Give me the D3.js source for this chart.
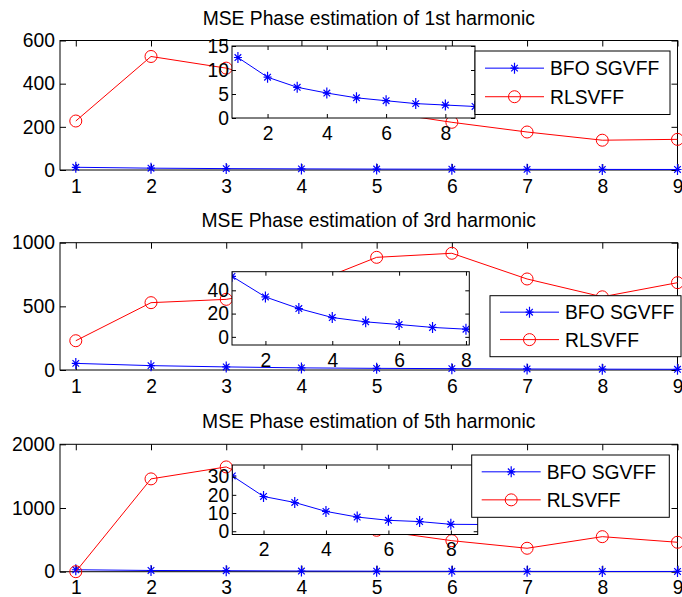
<!DOCTYPE html>
<html>
<head>
<meta charset="utf-8">
<script src="https://cdn.jsdelivr.net/npm/d3@7"></script>
<style>
  body { margin: 0; background: #fff; }
  svg { display: block; }
  text { font-family: "Liberation Sans", Arial, sans-serif; }
</style>
</head>
<body>
<svg width="682" height="597"></svg>
<script>
const steps = [1, 2, 3, 4, 5, 6, 7, 8, 9];
const seriesNames = ["BFO SGVFF", "RLSVFF"];

// 1st harmonic
const bfo1 = [12.6, 8.5, 6.4, 5.2, 4.2, 3.6, 3.0, 2.7, 2.4];
const rls1 = [227, 526, 472, 380, 273, 221, 176, 138, 142];
// 3rd harmonic
const bfo3 = [52, 34.3, 24.3, 16.6, 12.9, 10.6, 8.1, 6.6, 5.5];
const rls3 = [230, 529, 555, 650, 885, 917, 715, 575, 686];
// 5th harmonic
const bfo5 = [30.4, 19.1, 15.8, 10.9, 7.8, 6.0, 5.3, 3.8, 3.7];
const rls5 = [0, 1457, 1645, 1100, 650, 487, 368, 550, 462];

const titles = [
  "MSE Phase estimation of 1st harmonic",
  "MSE Phase estimation of 3rd harmonic",
  "MSE Phase estimation of 5th harmonic"
];
const mainYTicks = [[0, 200, 400, 600], [0, 500, 1000], [0, 1000, 2000]];
const insetYTicks = [[0, 5, 10, 15], [0, 20, 40], [0, 10, 20, 30]];
const insetXTicks = [2, 4, 6, 8];

const panels = [
  {
    title: titles[0], bfo: bfo1, rls: rls1, yTicks: mainYTicks[0],
    box: { l: 60, t: 40.5, r: 677.5, b: 170 }, yDomain: [0, 600], titleY: 25,
    inset: { l: 232, t: 46, r: 475, b: 118, xDomain: [0.8, 9], yDomain: [0, 15], yTicks: insetYTicks[0], clip: false },
    legend: { l: 475, t: 51, r: 670, b: 114.5 }
  },
  {
    title: titles[1], bfo: bfo3, rls: rls3, yTicks: mainYTicks[1],
    box: { l: 60, t: 242.7, r: 677.5, b: 370 }, yDomain: [0, 1000], titleY: 226.5,
    inset: { l: 232, t: 271.7, r: 469.3, b: 345, xDomain: [1, 8.1], yDomain: [-7, 56], yTicks: insetYTicks[1], clip: true },
    legend: { l: 490, t: 295.7, r: 681, b: 356.7 }
  },
  {
    title: titles[2], bfo: bfo5, rls: rls5, yTicks: mainYTicks[2],
    box: { l: 60, t: 444.3, r: 677.5, b: 571.7 }, yDomain: [0, 2000], titleY: 428,
    inset: { l: 232.3, t: 465, r: 477.7, b: 534.5, xDomain: [1, 8.86], yDomain: [-1.8, 36.4], yTicks: insetYTicks[2], clip: true },
    legend: { l: 471.7, t: 455, r: 669.3, b: 517.3 }
  }
];

const svg = d3.select("svg");
const fontSize = 19.3;
const blue = "#0000ff";
const red = "#ff0000";
const starPath = "M0,-5.5V5.5M-4,0H4M-3.3,-3.3L3.3,3.3M-3.3,3.3L3.3,-3.3";

function drawAxes(g, x, y, xTickVals, yTickVals, w, h, tick, xPad, yPad) {
  const style = sel => {
    sel.select(".domain").remove();
    sel.selectAll("line").attr("stroke", "#000");
    sel.selectAll("text").attr("fill", "#000").style("font-size", fontSize + "px");
  };
  g.append("g").attr("transform", `translate(0,${h})`)
    .call(d3.axisBottom(x).tickValues(xTickVals).tickSize(-tick).tickPadding(xPad).tickFormat(d3.format("d")))
    .call(style);
  g.append("g")
    .call(d3.axisTop(x).tickValues(xTickVals).tickSize(-tick).tickFormat(""))
    .call(style);
  g.append("g")
    .call(d3.axisLeft(y).tickValues(yTickVals).tickSize(-tick).tickPadding(yPad).tickFormat(d3.format("d")))
    .call(style);
  g.append("g").attr("transform", `translate(${w},0)`)
    .call(d3.axisRight(y).tickValues(yTickVals).tickSize(-tick).tickFormat(""))
    .call(style);
  g.append("rect")
    .attr("width", w).attr("height", h)
    .attr("fill", "none").attr("stroke", "#000").attr("stroke-width", 1);
}

function drawSeries(g, x, y, values, color, marker) {
  const pts = steps.map((s, i) => [s, values[i]]);
  g.append("path")
    .datum(pts)
    .attr("fill", "none")
    .attr("stroke", color)
    .attr("stroke-width", 1)
    .attr("d", d3.line().x(d => x(d[0])).y(d => y(d[1])));
  const m = g.selectAll(null).data(pts).enter();
  if (marker === "star") {
    m.append("path")
      .attr("transform", d => `translate(${x(d[0])},${y(d[1])})`)
      .attr("d", starPath)
      .attr("stroke", color).attr("fill", "none").attr("stroke-width", 1.2);
  } else {
    m.append("circle")
      .attr("cx", d => x(d[0])).attr("cy", d => y(d[1])).attr("r", 6)
      .attr("stroke", color).attr("fill", "none").attr("stroke-width", 1);
  }
}

panels.forEach((p, k) => {
  const b = p.box;
  const w = b.r - b.l, h = b.b - b.t;
  const x = d3.scaleLinear().domain([0.79, 9]).range([0, w]);
  const y = d3.scaleLinear().domain(p.yDomain).range([h, 0]);

  svg.append("text")
    .attr("x", (b.l + b.r) / 2).attr("y", p.titleY)
    .attr("text-anchor", "middle")
    .style("font-size", fontSize + "px")
    .text(p.title);

  const g = svg.append("g").attr("transform", `translate(${b.l},${b.t})`);
  g.append("rect").attr("width", w).attr("height", h).attr("fill", "#fff");
  drawAxes(g, x, y, steps, p.yTicks, w, h, 6, 9, 5);
  drawSeries(g, x, y, p.bfo, blue, "star");
  drawSeries(g, x, y, p.rls, red, "circle");

  // inset zoom on the BFO curve
  const ins = p.inset;
  const iw = ins.r - ins.l, ih = ins.b - ins.t;
  const ix = d3.scaleLinear().domain(ins.xDomain).range([0, iw]);
  const iy = d3.scaleLinear().domain(ins.yDomain).range([ih, 0]);
  const gi = svg.append("g").attr("transform", `translate(${ins.l},${ins.t})`);
  gi.append("rect").attr("width", iw).attr("height", ih).attr("fill", "#fff");
  const clipId = "clip" + k;
  gi.append("clipPath").attr("id", clipId)
    .append("rect").attr("width", iw).attr("height", ih);
  const gs = gi.append("g");
  if (ins.clip) gs.attr("clip-path", `url(#${clipId})`);
  drawSeries(gs, ix, iy, p.bfo, blue, "star");
  drawAxes(gi, ix, iy, insetXTicks, ins.yTicks, iw, ih, 4, 8, 3);

  // legend
  const L = p.legend;
  const gl = svg.append("g").attr("transform", `translate(${L.l},${L.t})`);
  gl.append("rect")
    .attr("width", L.r - L.l).attr("height", L.b - L.t)
    .attr("fill", "#fff").attr("stroke", "#000").attr("stroke-width", 1);
  const lh = L.b - L.t;
  seriesNames.forEach((name, i) => {
    const ry = i === 0 ? lh * 0.27 : lh * 0.72;
    const color = i === 0 ? blue : red;
    gl.append("line")
      .attr("x1", 10).attr("x2", 69).attr("y1", ry).attr("y2", ry)
      .attr("stroke", color).attr("stroke-width", 1);
    if (i === 0) {
      gl.append("path").attr("transform", `translate(39.5,${ry})`)
        .attr("d", starPath).attr("stroke", color).attr("fill", "none").attr("stroke-width", 1.2);
    } else {
      gl.append("circle").attr("cx", 39.5).attr("cy", ry).attr("r", 6)
        .attr("stroke", color).attr("fill", "none");
    }
    gl.append("text")
      .attr("x", 75).attr("y", ry).attr("dy", "0.36em")
      .style("font-size", fontSize + "px")
      .text(name);
  });
});
</script>
</body>
</html>
